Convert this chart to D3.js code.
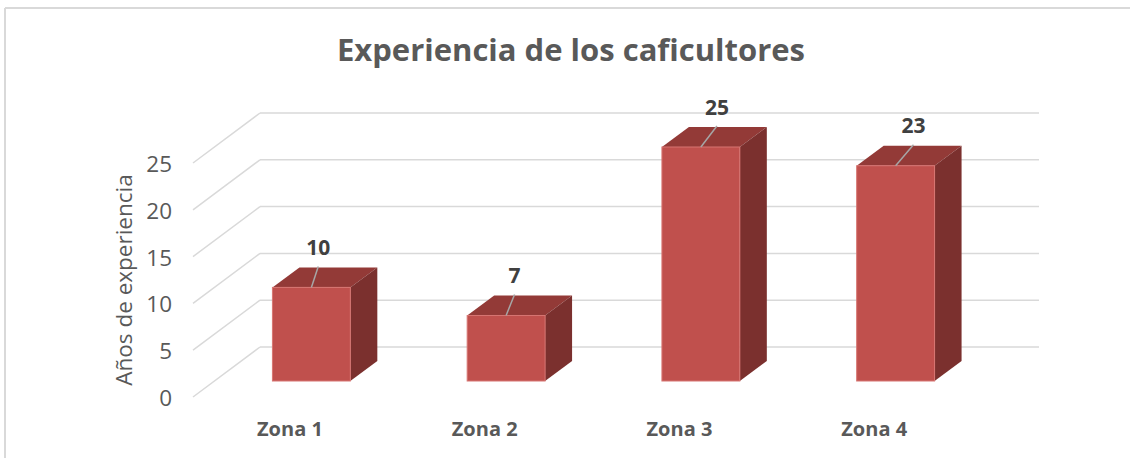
<!DOCTYPE html>
<html lang="es">
<head>
<meta charset="utf-8">
<title>Experiencia de los caficultores</title>
<script src="https://d3js.org/d3.v7.min.js"></script>
<style>
  body { margin: 0; background: #fff; }
  text { font-family: "Open Sans", "Noto Sans", sans-serif; }
</style>
</head>
<body>
<script>
// data
var zonas = ["Zona 1", "Zona 2", "Zona 3", "Zona 4"];
var anios = [10, 7, 25, 23];
var ticks = [0, 5, 10, 15, 20, 25];

var w = 1130, h = 458;

// 3D layout: floor front/back and depth offset
var wallDx = 67, wallDy = -50;      // side wall depth
var barDx = 27, barDy = -20;        // bar depth
var frontX = 193, frontY = 397;     // front-left corner of floor
var backRight = 1039;
var barFrontY = 381;                // front face baseline of bars

var svg = d3.select("body").append("svg")
    .attr("width", w)
    .attr("height", h);

// chart frame (top + left)
svg.append("line").attr("x1", 5).attr("y1", 8).attr("x2", w).attr("y2", 8)
    .attr("stroke", "#d9d9d9").attr("stroke-width", 2);
svg.append("line").attr("x1", 5).attr("y1", 8).attr("x2", 5).attr("y2", h)
    .attr("stroke", "#d9d9d9").attr("stroke-width", 2);

var yH = d3.scaleLinear().domain([0, 25]).range([0, 234]);

var x = d3.scaleBand()
    .domain(zonas)
    .range([214, 993])
    .paddingInner(0.6)
    .paddingOuter(0.3);

// gridlines: back wall + side wall diagonals
var grid = svg.append("g");
grid.selectAll(".back").data(ticks).enter().append("line")
    .attr("x1", frontX + wallDx).attr("x2", backRight)
    .attr("y1", function(d) { return frontY + wallDy - yH(d); })
    .attr("y2", function(d) { return frontY + wallDy - yH(d); })
    .attr("stroke", "#d9d9d9").attr("stroke-width", 1.5);
grid.selectAll(".side").data(ticks).enter().append("line")
    .attr("x1", frontX).attr("x2", frontX + wallDx)
    .attr("y1", function(d) { return frontY - yH(d); })
    .attr("y2", function(d) { return frontY + wallDy - yH(d); })
    .attr("stroke", "#d9d9d9").attr("stroke-width", 1.5);

// tick labels
svg.selectAll(".tick").data(ticks).enter().append("text")
    .attr("x", 172)
    .attr("y", function(d) { return frontY - yH(d) + 3; })
    .attr("text-anchor", "end")
    .attr("dominant-baseline", "middle")
    .attr("fill", "#595959")
    .style("font-size", "22.5px")
    .text(function(d) { return d; });

// axis title
svg.append("text")
    .attr("transform", "translate(132,280) rotate(-90)")
    .attr("text-anchor", "middle")
    .attr("fill", "#595959")
    .style("font-size", "22.5px")
    .text("Años de experiencia");

// bars
var bars = svg.selectAll(".bar").data(anios).enter().append("g");

bars.append("path")   // top
    .attr("fill", "#933a37")
    .attr("d", function(d, i) {
        var x0 = x(zonas[i]), x1 = x0 + x.bandwidth(), y0 = barFrontY - yH(d);
        return "M" + x0 + "," + y0 + "L" + (x0 + barDx) + "," + (y0 + barDy) +
               "L" + (x1 + barDx) + "," + (y0 + barDy) + "L" + x1 + "," + y0 + "Z";
    });
bars.append("path")   // side
    .attr("fill", "#7b302e")
    .attr("d", function(d, i) {
        var x1 = x(zonas[i]) + x.bandwidth(), y0 = barFrontY - yH(d);
        return "M" + x1 + "," + y0 + "L" + (x1 + barDx) + "," + (y0 + barDy) +
               "L" + (x1 + barDx) + "," + (barFrontY + barDy) + "L" + x1 + "," + barFrontY + "Z";
    });
bars.append("rect")   // front
    .attr("x", function(d, i) { return x(zonas[i]); })
    .attr("y", function(d) { return barFrontY - yH(d); })
    .attr("width", x.bandwidth())
    .attr("height", function(d) { return yH(d); })
    .attr("fill", "#c0504d")
    .attr("stroke", "#d77572")
    .attr("stroke-width", 1);

// data labels with leader lines
function labelX(d, i) {
    return x(zonas[i]) + x.bandwidth() / 2 + 4 + 2.4 * i + 0.29 * d;
}
bars.append("line")
    .attr("x1", function(d, i) { return x(zonas[i]) + x.bandwidth() / 2; })
    .attr("y1", function(d) { return barFrontY - yH(d); })
    .attr("x2", labelX)
    .attr("y2", function(d) { return barFrontY - yH(d) + barDy - 1; })
    .attr("stroke", "#a6a6a6").attr("stroke-width", 1.5);
bars.append("text")
    .attr("x", labelX)
    .attr("y", function(d) { return barFrontY - yH(d) + barDy - 18; })
    .attr("text-anchor", "middle")
    .attr("dominant-baseline", "middle")
    .attr("fill", "#404040")
    .style("font-size", "21px")
    .style("font-weight", "bold")
    .text(function(d) { return d; });

// category labels
svg.selectAll(".cat").data(zonas).enter().append("text")
    .attr("x", function(d) { return x(d) + x.bandwidth() / 2 - 0.32 * wallDx; })
    .attr("y", 431)
    .attr("text-anchor", "middle")
    .attr("dominant-baseline", "middle")
    .attr("fill", "#595959")
    .style("font-size", "20px")
    .style("font-weight", "bold")
    .text(function(d) { return d; });

// title
svg.append("text")
    .attr("x", 571)
    .attr("y", 53)
    .attr("text-anchor", "middle")
    .attr("dominant-baseline", "middle")
    .attr("fill", "#595959")
    .style("font-size", "31px")
    .style("font-weight", "bold")
    .text("Experiencia de los caficultores");
</script>
</body>
</html>
